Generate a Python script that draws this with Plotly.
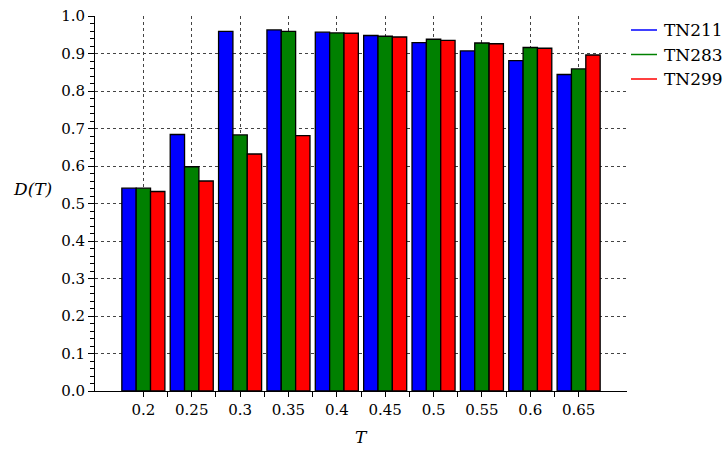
import plotly.graph_objects as go

# Threshold values on the horizontal axis
T_values = [0.2, 0.25, 0.3, 0.35, 0.4, 0.45, 0.5, 0.55, 0.6, 0.65]
T_labels = ["0.2", "0.25", "0.3", "0.35", "0.4", "0.45", "0.5", "0.55", "0.6", "0.65"]

# D(T) for each dataset
tn211 = [0.541, 0.684, 0.959, 0.963, 0.957, 0.948, 0.929, 0.907, 0.881, 0.844]
tn283 = [0.541, 0.598, 0.683, 0.959, 0.955, 0.946, 0.938, 0.928, 0.916, 0.859]
tn299 = [0.532, 0.560, 0.632, 0.681, 0.954, 0.944, 0.935, 0.926, 0.914, 0.896]

series = [("TN211", tn211, "#0000FF"),
          ("TN283", tn283, "#008000"),
          ("TN299", tn299, "#FF0000")]

FONT = "DejaVu Serif"

W, H = 724, 449
ML, MR, MT, MB = 95, 97, 16, 58
PW, PH = W - ML - MR, H - MT - MB


def px_x(px):
    return (px - ML) / PW


def px_y(py):
    return (H - MB - py) / PH


fig = go.Figure()

for name, vals, color in series:
    fig.add_trace(go.Bar(
        x=T_values, y=vals, name=name, showlegend=False,
        marker=dict(color=color, line=dict(color="black", width=1.3)),
    ))

fig.update_layout(
    width=W, height=H,
    margin=dict(l=ML, r=MR, t=MT, b=MB, autoexpand=False),
    paper_bgcolor="white", plot_bgcolor="white",
    barmode="group", bargap=0.11, bargroupgap=0.0,
    showlegend=False,
    font=dict(family=FONT, size=15, color="black"),
    xaxis=dict(
        range=[0.15, 0.70], tickvals=T_values, ticktext=T_labels,
        showline=True, linecolor="black", linewidth=1,
        ticks="outside", ticklen=5, tickcolor="black",
        showgrid=True, gridcolor="#444444", griddash="dot", gridwidth=1,
        zeroline=False,
        minor=dict(tickvals=[0.225, 0.275, 0.325, 0.375, 0.425, 0.475,
                             0.525, 0.575, 0.625],
                   ticks="outside", ticklen=5, tickcolor="black",
                   showgrid=False),
    ),
    yaxis=dict(
        range=[0, 1.0], tick0=0, dtick=0.1, tickformat=".1f",
        showline=True, linecolor="black", linewidth=1,
        ticks="outside", ticklen=6, tickcolor="black",
        showgrid=True, gridcolor="#444444", griddash="dot", gridwidth=1,
        zeroline=False,
        minor=dict(dtick=0.02, tick0=0, ticks="outside", ticklen=4,
                   tickcolor="black", showgrid=False),
    ),
)

# Legend drawn as line samples with labels beside them
for i, (name, vals, color) in enumerate(series):
    yy = px_y(30 + 24.5 * i)
    fig.add_shape(type="line", xref="paper", yref="paper",
                  x0=px_x(631), x1=px_x(657), y0=yy, y1=yy,
                  line=dict(color=color, width=1.5))
    fig.add_annotation(text=name, xref="paper", yref="paper",
                       x=px_x(662), y=yy, xanchor="left", yanchor="middle",
                       showarrow=False, font=dict(size=17))

fig.add_annotation(text="<i>T</i>", xref="paper", yref="paper",
                   x=0.5, y=0, yshift=-46, showarrow=False,
                   font=dict(size=17), yanchor="middle")
fig.add_annotation(text="<i>D(T)</i>", xref="paper", yref="paper",
                   x=0, xshift=-63, y=0.54, showarrow=False,
                   font=dict(size=17), xanchor="center", yanchor="middle")

fig.write_html("out.html")
